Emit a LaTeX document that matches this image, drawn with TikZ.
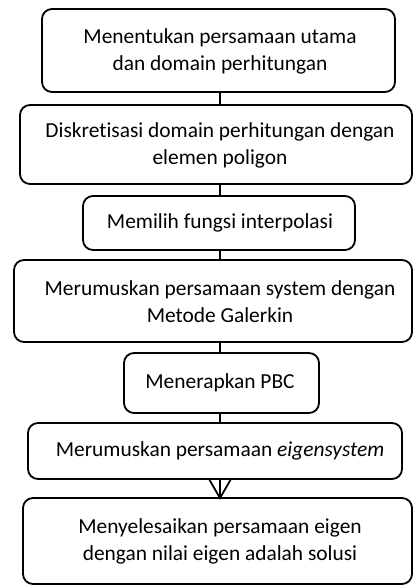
\documentclass[tikz,border=0pt]{standalone}
\usepackage{fontspec}
\setmainfont[Ligatures=NoCommon]{Carlito}
\usetikzlibrary{arrows.meta}
\begin{document}
\begin{tikzpicture}[x=1pt,y=-1pt,
  box/.style={draw=black,line width=1.8pt,rounded corners=10pt,fill=white,inner sep=0pt},
  txt/.style={align=center,font=\fontsize{21.4}{27.5}\selectfont,inner sep=0pt},
  conn/.style={line width=1.8pt},
  tiphead/.style={line width=1.8pt,line join=miter}]
\useasboundingbox (0,0) rectangle (413,585);
\node[box,minimum width=353pt,minimum height=83pt] (b1) at (218.5,50.5) {};
\node[box,minimum width=392pt,minimum height=79pt] (b2) at (216,144.5) {};
\node[box,minimum width=272pt,minimum height=54pt] (b3) at (219,223) {};
\node[box,minimum width=398pt,minimum height=82pt] (b4) at (213,301) {};
\node[box,minimum width=195pt,minimum height=60pt] (b5) at (221.5,383) {};
\node[box,minimum width=374pt,minimum height=56pt] (b6) at (215,451) {};
\node[box,minimum width=389pt,minimum height=86pt] (b7) at (217.5,541) {};
\node[txt] (t1) at (220,51.5) {Menentukan persamaan utama\\dan domain perhitungan};
\node[txt] (t2) at (220,145.5) {Diskretisasi domain perhitungan dengan\\elemen poligon};
\node[txt] (t3) at (220,223) {Memilih fungsi interpolasi};
\node[txt] (t4) at (220,301.5) {Merumuskan persamaan system dengan\\Metode Galerkin};
\node[txt] (t5) at (220,383) {Menerapkan PBC};
\node[txt] (t6) at (220,451) {Merumuskan persamaan \textit{eigensystem}};
\node[txt] (t7) at (220,541.5) {Menyelesaikan persamaan eigen\\dengan nilai eigen adalah solusi};
\draw[conn] (t1 |- b1.south) -- (t1 |- b2.north);
\draw[conn] (t1 |- b2.south) -- (t1 |- b3.north);
\draw[conn] (t1 |- b3.south) -- (t1 |- b4.north);
\draw[conn] (t1 |- b4.south) -- (t1 |- b5.north);
\draw[conn] (t1 |- b5.south) -- (t1 |- b6.north);
\coordinate (ab) at (t1 |- b6.south);
\coordinate (at) at ([yshift=-1pt]t1 |- b7.north);
\draw[conn] (ab) -- (at);
\draw[tiphead] ([xshift=-10.5pt]ab) -- (at) -- ([xshift=10.5pt]ab);
\end{tikzpicture}
\end{document}
